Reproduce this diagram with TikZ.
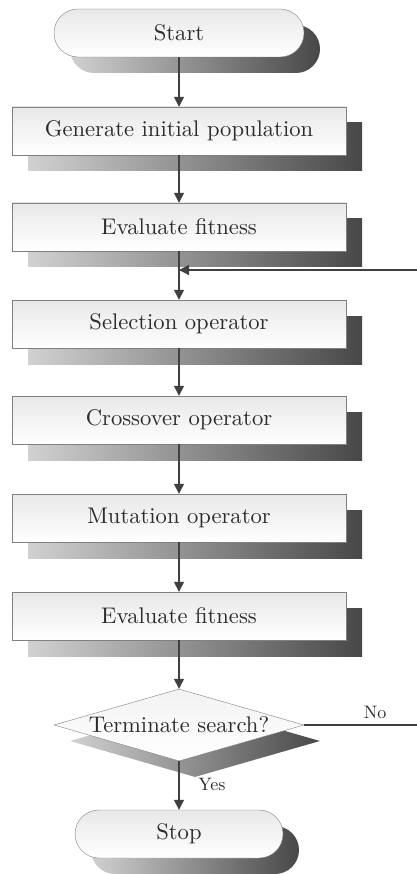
\documentclass[tikz,border=0pt]{standalone}
\usepackage{fontspec}
\setmainfont{lmroman10-regular.otf}
\usepackage{tikz}
\usetikzlibrary{arrows.meta, shapes.geometric, shadows, positioning}
\definecolor{flowgray}{HTML}{404040}
\definecolor{textgray}{HTML}{2C2C2C}
\tikzset{
    gradshadow/.style={general shadow={shadow xshift=16pt, shadow yshift=-16pt,
        left color=black!18, right color=black!72}},
    procbox/.style={rectangle, draw=black!50, top color=black!9, bottom color=white,
        minimum width=334pt, minimum height=48pt, inner sep=0pt, gradshadow,
        text=textgray},
    terminal/.style={procbox, rounded corners=24pt, minimum width=250pt},
    decision/.style={diamond, draw=black!50, top color=black!5, bottom color=white,
        minimum width=250pt, minimum height=72pt, inner sep=0pt, gradshadow,
        text=textgray},
    flow/.style={draw=flowgray, line width=1.3pt, -{Triangle[length=10pt,width=10pt]}},
    flowlabel/.style={text=textgray, font=\fontsize{18}{21}\selectfont}
}

\begin{document}
\begin{tikzpicture}[x=1pt, y=-1pt, font=\fontsize{22.6}{27}\selectfont]
    \useasboundingbox (0,0) rectangle (416,874);

    % Terminals
    \node[terminal] (start) at (179,33) {Start};
    \node[terminal, minimum width=208pt] (stop) at (179,834) {Stop};

    % Process boxes
    \foreach \name/\ypos/\txt in {gen/131/Generate initial population,
        eval1/227/Evaluate fitness, sel/324/Selection operator,
        cross/420/Crossover operator, mut/518/Mutation operator,
        eval2/616/Evaluate fitness}
        \node[procbox] (\name) at (179,\ypos) {\txt};

    % Decision
    \node[decision] (term) at (179,725) {\makebox[0pt]{Terminate search?}};

    % Main flow
    \foreach \a/\b in {start/gen, gen/eval1, eval1/sel, sel/cross, cross/mut,
        mut/eval2, eval2/term, term/stop}
        \draw[flow] (\a) -- (\b);

    % Loop back
    \coordinate (merge) at (179,270);
    \coordinate (loopend) at (425,725);
    \draw[flow] (term.east) -- (loopend) |- (merge);

    \node[flowlabel] (nolbl) at (375,712) {No};
    \node[flowlabel] (yeslbl) at (212,784) {Yes};
\end{tikzpicture}
\end{document}
